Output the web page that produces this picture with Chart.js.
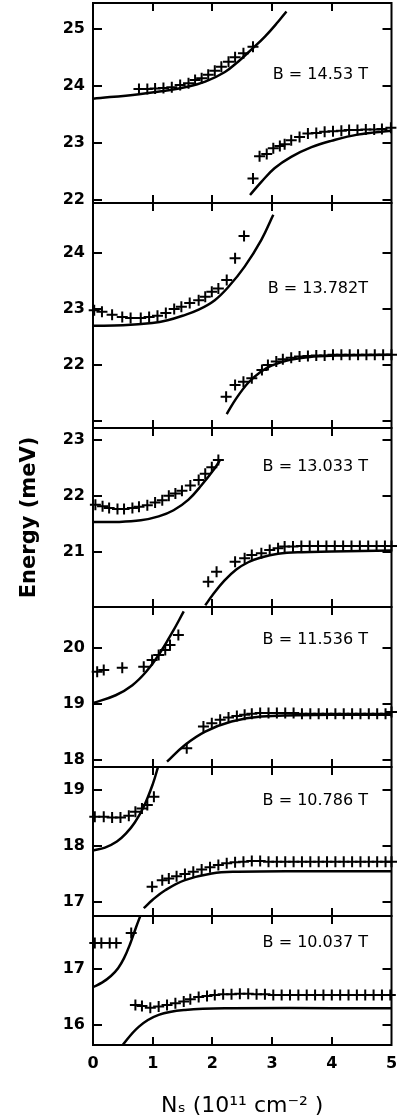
<!DOCTYPE html>
<html><head><meta charset="utf-8">
<script src="https://cdn.jsdelivr.net/npm/chart.js@4.4.1/dist/chart.umd.min.js"></script>
<style>
html,body{margin:0;padding:0;background:#fff;}
#wrap{position:relative;width:399px;height:1120px;overflow:hidden;background:#fff;}
canvas{position:absolute;left:0;}
</style></head><body><div id="wrap"></div>
<script>
// ---------------- DATA ----------------
const xTicks = [0, 1, 2, 3, 4, 5];
const fieldLabels = ['B = 14.53 T', 'B = 13.782T', 'B = 13.033 T', 'B = 11.536 T', 'B = 10.786 T', 'B = 10.037 T'];

// Panel 1: B = 14.53 T
const p1Range = [21.95, 25.46];
const p1TickMarks = [22, 23, 24, 25];
const p1TickLabels = [22, 23, 24, 25];
const p1UpFitX = [0.00, 0.77, 1.21, 1.54, 1.88, 2.21, 2.43, 2.66, 2.88, 3.10, 3.24];
const p1UpFitE = [23.78, 23.86, 23.92, 23.98, 24.08, 24.25, 24.43, 24.65, 24.87, 25.13, 25.31];
const p1UpMeasX = [0.77, 0.91, 1.04, 1.18, 1.32, 1.46, 1.60, 1.71, 1.82, 1.93, 2.04, 2.15, 2.27, 2.38, 2.52, 2.68];
const p1UpMeasE = [23.95, 23.95, 23.96, 23.97, 23.98, 24.02, 24.05, 24.11, 24.14, 24.20, 24.27, 24.34, 24.43, 24.51, 24.58, 24.69];
const p1LoFitX = [2.63, 2.82, 3.04, 3.32, 3.66, 3.99, 4.43, 5.00];
const p1LoFitE = [22.09, 22.32, 22.56, 22.76, 22.93, 23.04, 23.15, 23.22];
const p1LoMeasX = [2.68, 2.79, 2.91, 3.02, 3.13, 3.21, 3.32, 3.46, 3.60, 3.74, 3.88, 4.02, 4.16, 4.29, 4.43, 4.57, 4.71, 4.84, 4.99];
const p1LoMeasE = [22.38, 22.77, 22.81, 22.91, 22.95, 22.98, 23.05, 23.11, 23.17, 23.18, 23.20, 23.21, 23.22, 23.23, 23.23, 23.24, 23.24, 23.25, 23.27];

// Panel 2: B = 13.782 T
const p2Range = [20.87, 24.90];
const p2TickMarks = [21, 22, 23, 24];
const p2TickLabels = [22, 23, 24];
const p2UpFitX = [0.00, 0.50, 0.99, 1.25, 1.50, 1.77, 2.04, 2.27, 2.54, 2.82, 3.02];
const p2UpFitE = [22.70, 22.71, 22.75, 22.80, 22.88, 22.99, 23.16, 23.40, 23.76, 24.24, 24.69];
const p2UpMeasX = [0.02, 0.15, 0.32, 0.49, 0.63, 0.80, 0.94, 1.08, 1.22, 1.36, 1.48, 1.62, 1.77, 1.88, 1.99, 2.10, 2.24, 2.38, 2.53];
const p2UpMeasE = [22.98, 22.95, 22.90, 22.86, 22.84, 22.84, 22.86, 22.88, 22.93, 23.00, 23.04, 23.11, 23.16, 23.22, 23.31, 23.37, 23.52, 23.91, 24.31];
const p2LoFitX = [2.24, 2.40, 2.60, 2.80, 3.00, 3.30, 3.70, 4.20, 5.00];
const p2LoFitE = [21.12, 21.40, 21.68, 21.87, 21.99, 22.09, 22.15, 22.17, 22.18];
const p2LoMeasX = [2.23, 2.38, 2.52, 2.66, 2.83, 2.93, 3.07, 3.18, 3.32, 3.46, 3.60, 3.74, 3.88, 4.02, 4.16, 4.30, 4.44, 4.58, 4.72, 4.86, 5.00];
const p2LoMeasE = [21.43, 21.64, 21.70, 21.76, 21.91, 22.00, 22.06, 22.10, 22.13, 22.15, 22.16, 22.17, 22.17, 22.18, 22.18, 22.18, 22.18, 22.18, 22.18, 22.18, 22.18];

// Panel 3: B = 13.033 T
const p3Range = [20.01, 23.21];
const p3TickMarks = [21, 22, 23];
const p3TickLabels = [21, 22, 23];
const p3UpFitX = [0.00, 0.40, 0.80, 1.10, 1.35, 1.60, 1.82, 2.04, 2.13];
const p3UpFitE = [21.53, 21.53, 21.56, 21.63, 21.74, 21.93, 22.19, 22.49, 22.64];
const p3UpMeasX = [0.04, 0.16, 0.27, 0.41, 0.52, 0.66, 0.77, 0.91, 1.04, 1.16, 1.27, 1.38, 1.49, 1.63, 1.77, 1.88, 1.99, 2.10];
const p3UpMeasE = [21.84, 21.81, 21.78, 21.76, 21.76, 21.78, 21.80, 21.83, 21.88, 21.92, 22.00, 22.04, 22.09, 22.18, 22.28, 22.39, 22.51, 22.64];
const p3LoFitX = [1.88, 2.00, 2.20, 2.40, 2.60, 2.80, 3.10, 3.50, 4.00, 5.00];
const p3LoFitE = [20.04, 20.22, 20.48, 20.68, 20.81, 20.89, 20.96, 20.99, 21.00, 21.02];
const p3LoMeasX = [1.93, 2.07, 2.38, 2.54, 2.66, 2.82, 2.96, 3.10, 3.21, 3.35, 3.49, 3.63, 3.77, 3.91, 4.05, 4.19, 4.33, 4.47, 4.61, 4.75, 4.89, 5.00];
const p3LoMeasE = [20.46, 20.64, 20.82, 20.88, 20.94, 20.97, 21.03, 21.06, 21.09, 21.09, 21.10, 21.10, 21.10, 21.10, 21.10, 21.10, 21.10, 21.10, 21.10, 21.10, 21.10, 21.10];

// Panel 4: B = 11.536 T
const p4Range = [17.875, 20.74];
const p4TickMarks = [18, 19, 20];
const p4TickLabels = [18, 19, 20];
const p4UpFitX = [0.00, 0.38, 0.66, 0.89, 1.10, 1.32, 1.52];
const p4UpFitE = [19.02, 19.16, 19.34, 19.58, 19.88, 20.27, 20.66];
const p4UpMeasX = [0.07, 0.18, 0.49, 0.85, 0.99, 1.10, 1.21, 1.29, 1.43];
const p4UpMeasE = [19.58, 19.61, 19.65, 19.67, 19.79, 19.88, 19.97, 20.06, 20.24];
const p4LoFitX = [1.24, 1.54, 1.88, 2.32, 2.82, 3.99, 5.00];
const p4LoFitE = [17.97, 18.27, 18.51, 18.69, 18.78, 18.81, 18.81];
const p4LoMeasX = [1.57, 1.85, 1.99, 2.13, 2.27, 2.41, 2.54, 2.66, 2.80, 2.94, 3.08, 3.22, 3.36, 3.50, 3.64, 3.78, 3.92, 4.06, 4.20, 4.34, 4.48, 4.62, 4.76, 4.90, 5.00];
const p4LoMeasE = [18.21, 18.60, 18.66, 18.72, 18.76, 18.79, 18.81, 18.83, 18.84, 18.84, 18.84, 18.84, 18.84, 18.83, 18.83, 18.83, 18.83, 18.83, 18.83, 18.83, 18.83, 18.83, 18.83, 18.83, 18.86];

// Panel 5: B = 10.786 T
const p5Range = [16.75, 19.41];
const p5TickMarks = [17, 18, 19];
const p5TickLabels = [17, 18, 19];
const p5UpFitX = [0.00, 0.20, 0.40, 0.55, 0.70, 0.85, 1.00, 1.10];
const p5UpFitE = [17.92, 17.97, 18.08, 18.22, 18.42, 18.70, 19.10, 19.45];
const p5UpMeasX = [0.03, 0.18, 0.32, 0.46, 0.60, 0.71, 0.82, 0.91, 1.02];
const p5UpMeasE = [18.52, 18.52, 18.51, 18.51, 18.54, 18.61, 18.67, 18.73, 18.88];
const p5LoFitX = [0.85, 1.00, 1.21, 1.54, 1.99, 2.43, 3.50, 5.00];
const p5LoFitE = [16.89, 17.04, 17.21, 17.39, 17.51, 17.54, 17.55, 17.55];
const p5LoMeasX = [0.99, 1.16, 1.27, 1.40, 1.54, 1.68, 1.82, 1.96, 2.10, 2.24, 2.38, 2.52, 2.66, 2.80, 2.94, 3.08, 3.22, 3.36, 3.50, 3.64, 3.78, 3.92, 4.06, 4.20, 4.34, 4.48, 4.62, 4.76, 4.90, 5.00];
const p5LoMeasE = [17.27, 17.39, 17.42, 17.46, 17.50, 17.54, 17.58, 17.62, 17.66, 17.69, 17.71, 17.72, 17.73, 17.73, 17.72, 17.72, 17.72, 17.72, 17.72, 17.72, 17.72, 17.72, 17.72, 17.72, 17.72, 17.72, 17.72, 17.72, 17.72, 17.72];

// Panel 6: B = 10.037 T
const p6Range = [15.64, 17.957];
const p6TickMarks = [16, 17];
const p6TickLabels = [16, 17];
const p6UpFitX = [0.00, 0.15, 0.30, 0.42, 0.52, 0.62, 0.72, 0.80];
const p6UpFitE = [16.68, 16.76, 16.88, 17.02, 17.20, 17.45, 17.75, 17.98];
const p6UpMeasX = [0.03, 0.14, 0.28, 0.39, 0.64];
const p6UpMeasE = [17.47, 17.47, 17.47, 17.47, 17.65];
const p6LoFitX = [0.45, 0.77, 1.10, 1.54, 2.32, 5.00];
const p6LoFitE = [15.58, 15.97, 16.18, 16.27, 16.30, 16.30];
const p6LoMeasX = [0.71, 0.82, 0.96, 1.10, 1.24, 1.38, 1.52, 1.63, 1.77, 1.91, 2.04, 2.18, 2.32, 2.46, 2.60, 2.74, 2.88, 3.02, 3.16, 3.30, 3.44, 3.58, 3.72, 3.86, 4.00, 4.14, 4.28, 4.42, 4.56, 4.70, 4.84, 4.98];
const p6LoMeasE = [16.36, 16.34, 16.31, 16.33, 16.36, 16.39, 16.42, 16.46, 16.50, 16.52, 16.54, 16.55, 16.55, 16.56, 16.56, 16.55, 16.55, 16.54, 16.54, 16.54, 16.54, 16.54, 16.54, 16.54, 16.54, 16.54, 16.54, 16.54, 16.54, 16.54, 16.54, 16.54];

// ---------------- LAYOUT ----------------
const LAYOUT = {
  width: 399, height: 1120,
  tops:    [3, 203, 428, 607, 767, 916],
  bottoms: [203, 428, 607, 767, 916, 1045],
  areaLeft: 93, areaRight: 393, pad: 12,
  labelRight: 368,
  labelCenters: [75, 289, 467, 640, 801, 943]
};
const FONT = 'DejaVu Sans';

function pts(xs, es) {
  const n = Math.min(xs.length, es.length), out = [];
  for (let k = 0; k < n; k++) out.push({x: xs[k], y: es[k]});
  return out;
}

const panels = [
  {range: p1Range, marks: p1TickMarks, labels: p1TickLabels, upFit: pts(p1UpFitX, p1UpFitE), upMeas: pts(p1UpMeasX, p1UpMeasE), loFit: pts(p1LoFitX, p1LoFitE), loMeas: pts(p1LoMeasX, p1LoMeasE)},
  {range: p2Range, marks: p2TickMarks, labels: p2TickLabels, upFit: pts(p2UpFitX, p2UpFitE), upMeas: pts(p2UpMeasX, p2UpMeasE), loFit: pts(p2LoFitX, p2LoFitE), loMeas: pts(p2LoMeasX, p2LoMeasE)},
  {range: p3Range, marks: p3TickMarks, labels: p3TickLabels, upFit: pts(p3UpFitX, p3UpFitE), upMeas: pts(p3UpMeasX, p3UpMeasE), loFit: pts(p3LoFitX, p3LoFitE), loMeas: pts(p3LoMeasX, p3LoMeasE)},
  {range: p4Range, marks: p4TickMarks, labels: p4TickLabels, upFit: pts(p4UpFitX, p4UpFitE), upMeas: pts(p4UpMeasX, p4UpMeasE), loFit: pts(p4LoFitX, p4LoFitE), loMeas: pts(p4LoMeasX, p4LoMeasE)},
  {range: p5Range, marks: p5TickMarks, labels: p5TickLabels, upFit: pts(p5UpFitX, p5UpFitE), upMeas: pts(p5UpMeasX, p5UpMeasE), loFit: pts(p5LoFitX, p5LoFitE), loMeas: pts(p5LoMeasX, p5LoMeasE)},
  {range: p6Range, marks: p6TickMarks, labels: p6TickLabels, upFit: pts(p6UpFitX, p6UpFitE), upMeas: pts(p6UpMeasX, p6UpMeasE), loFit: pts(p6LoFitX, p6LoFitE), loMeas: pts(p6LoMeasX, p6LoMeasE)}
];

const framePlugin = {
  id: 'frame',
  afterDatasetsDraw(chart, args, opts) {
    const {ctx, chartArea: a} = chart;
    const xs = chart.scales.x, ys = chart.scales.y;
    ctx.save();
    ctx.strokeStyle = '#000';
    ctx.lineWidth = 2;
    ctx.strokeRect(a.left, a.top, a.right - a.left, a.bottom - a.top);
    ctx.beginPath();
    opts.yMarks.forEach(v => {
      const py = Math.round(ys.getPixelForValue(v));
      ctx.moveTo(a.left, py); ctx.lineTo(a.left + 9, py);
      ctx.moveTo(a.right - 9, py); ctx.lineTo(a.right, py);
    });
    opts.xMarks.forEach(v => {
      const px = Math.round(xs.getPixelForValue(v));
      ctx.moveTo(px, a.top); ctx.lineTo(px, a.top + 8);
      ctx.moveTo(px, a.bottom - 8); ctx.lineTo(px, a.bottom);
    });
    ctx.stroke();
    ctx.fillStyle = '#000';
    ctx.font = '16px "' + FONT + '"';
    ctx.textAlign = 'right';
    ctx.textBaseline = 'middle';
    ctx.fillText(opts.label, opts.labelX, opts.labelY);
    ctx.restore();
  }
};

const wrap = document.getElementById('wrap');
panels.forEach((p, i) => {
  const last = i === panels.length - 1;
  const pad = LAYOUT.pad;
  const canvasTop = LAYOUT.tops[i] - pad;
  const below = last ? (LAYOUT.height - LAYOUT.bottoms[i]) : pad;
  const h = LAYOUT.bottoms[i] - LAYOUT.tops[i] + pad + below;
  const c = document.createElement('canvas');
  c.width = LAYOUT.width; c.height = h;
  c.style.width = LAYOUT.width + 'px'; c.style.height = h + 'px';
  c.style.top = canvasTop + 'px';
  wrap.appendChild(c);

  const fitStyle = {showLine: true, pointRadius: 0, pointHoverRadius: 0, borderColor: '#000', borderWidth: 2.5, tension: 0.4, fill: false};
  const measStyle = {showLine: false, pointStyle: 'cross', pointRadius: 5.5, pointHoverRadius: 5.5, pointBorderColor: '#000', borderColor: '#000', pointBorderWidth: 2, borderWidth: 2, clip: false};

  new Chart(c, {
    type: 'scatter',
    data: {
      datasets: [
        Object.assign({label: 'fit upper', data: p.upFit}, fitStyle),
        Object.assign({label: 'fit lower', data: p.loFit}, fitStyle),
        Object.assign({label: 'measured upper', data: p.upMeas}, measStyle),
        Object.assign({label: 'measured lower', data: p.loMeas}, measStyle)
      ]
    },
    options: {
      responsive: false,
      animation: false,
      devicePixelRatio: 1,
      events: [],
      layout: {padding: {left: 0, right: LAYOUT.width - LAYOUT.areaRight, top: pad, bottom: last ? 0 : pad}},
      plugins: {
        legend: {display: false},
        tooltip: {enabled: false},
        frame: {
          yMarks: p.marks, xMarks: [1, 2, 3, 4],
          label: fieldLabels[i], labelX: LAYOUT.labelRight, labelY: LAYOUT.labelCenters[i] - canvasTop
        }
      },
      scales: {
        x: {
          type: 'linear', min: 0, max: 5, position: 'bottom', display: last,
          afterBuildTicks: s => { s.ticks = xTicks.map(v => ({value: v})); },
          afterFit: s => { s.height = last ? LAYOUT.height - LAYOUT.bottoms[i] : 0; s.paddingLeft = 0; s.paddingRight = 0; },
          grid: {display: false, drawTicks: false},
          border: {display: false},
          ticks: {color: '#000', font: {family: FONT, size: 16, weight: 'bold'}, padding: 9, maxRotation: 0, autoSkip: false},
          title: {display: last, text: 'Nₛ (10¹¹ cm⁻² )', color: '#000', font: {family: FONT, size: 22}, padding: {top: 0, bottom: 1}}
        },
        y: {
          type: 'linear', min: p.range[0], max: p.range[1], position: 'left', bounds: 'data',
          afterBuildTicks: s => { s.ticks = p.labels.map(v => ({value: v})); },
          afterFit: s => { s.width = LAYOUT.areaLeft; s.paddingTop = 0; s.paddingBottom = 0; },
          grid: {display: false, drawTicks: false},
          border: {display: false},
          ticks: {color: '#000', font: {family: FONT, size: 16, weight: 'bold'}, padding: 8},
          title: {display: i === 2, text: 'Energy (meV)', color: '#000', font: {family: FONT, size: 21, weight: 'bold'}, padding: {top: 17, bottom: 0}}
        }
      }
    },
    plugins: [framePlugin]
  });
});
</script></body></html>
